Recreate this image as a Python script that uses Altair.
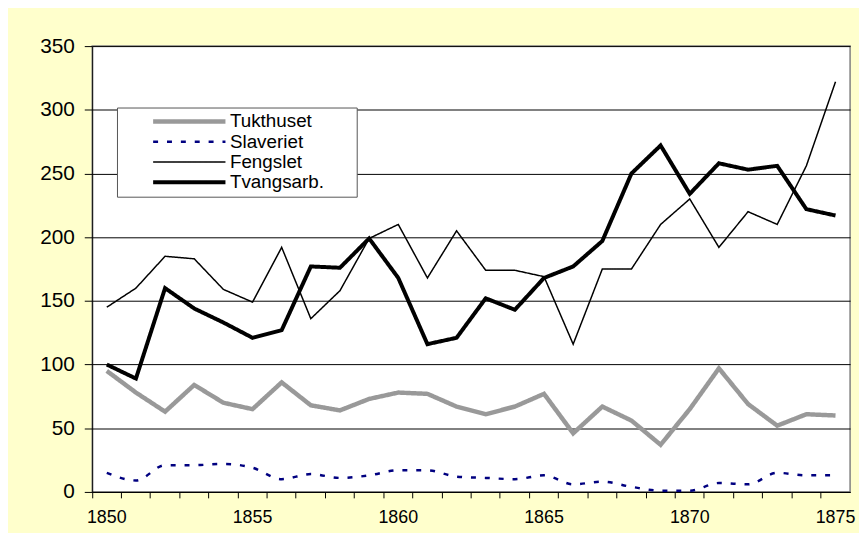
import altair as alt
import pandas as pd

years = list(range(1850, 1876))
series_names = ["Tukthuset", "Slaveriet", "Fengslet", "Tvangsarb."]

tukthuset = [95, 78, 63, 84, 70, 65, 86, 68, 64, 73, 78, 77, 67,
             61, 67, 77, 46, 67, 56, 37, 65, 97, 69, 52, 61, 60]
slaveriet = [15, 9, 21, 21, 22, 19, 10, 14, 11, 13, 17, 17, 12,
             11, 10, 13, 6, 8, 4, 1, 1, 7, 6, 15, 13, 13]
fengslet = [145, 160, 185, 183, 159, 149, 192, 136, 158, 199, 210, 168, 205,
            174, 174, 169, 116, 175, 175, 210, 230, 192, 220, 210, 256, 322]
tvangsarb = [100, 89, 160, 144, 133, 121, 127, 177, 176, 199, 168, 116, 121,
             152, 143, 168, 177, 197, 250, 272, 234, 258, 253, 256, 222, 217]

rows = []
for name, vals in zip(series_names, [tukthuset, slaveriet, fengslet, tvangsarb]):
    for y, v in zip(years, vals):
        rows.append({"year": y, "value": v, "series": name})
df = pd.DataFrame(rows)

colors = ["#999999", "#000080", "#000000", "#000000"]
widths = [4.5, 2.5, 1.5, 4]
dashes = [[1, 0], [5, 9], [1, 0], [1, 0]]

FONT = "Liberation Sans"
pad = "\u2800" * 2

legend = alt.Legend(
    title=None,
    orient="none",
    legendX=25,
    legendY=62,
    symbolType="stroke",
    symbolSize=5329,
    symbolOffset=30,
    labelOffset=2,
    clipHeight=20,
    rowPadding=0.5,
    padding=4,
    fillColor="#ffffff",
    strokeColor="#555555",
    labelFont=FONT,
    labelFontSize=19,
    labelColor="#000000",
    labelLimit=400,
    labelExpr="datum.label + '" + pad + "'",
)

base = alt.Chart(df).encode(
    x=alt.X(
        "year:O",
        scale=alt.Scale(type="band", paddingInner=0, paddingOuter=0),
        axis=alt.Axis(
            title=None,
            bandPosition=0,
            labelExpr="datum.value % 5 == 0 ? datum.label : ''",
            labelAngle=0,
            labelFont=FONT,
            labelFontSize=18,
            labelColor="#000000",
            labelPadding=11,
            tickSize=6,
            tickColor="#000000",
            domainColor="#000000",
            grid=False,
            labelOverlap=False,
        ),
    ),
    y=alt.Y(
        "value:Q",
        scale=alt.Scale(domain=[0, 350], nice=False, zero=True),
        axis=alt.Axis(
            title=None,
            values=[0, 50, 100, 150, 200, 250, 300, 350],
            labelFont=FONT,
            labelFontSize=21,
            labelColor="#000000",
            labelPadding=10,
            tickSize=8,
            tickColor="#000000",
            domainColor="#000000",
            grid=True,
            gridColor="#000000",
            gridWidth=1,
        ),
    ),
    color=alt.Color("series:N", scale=alt.Scale(domain=series_names, range=colors), legend=legend),
    strokeWidth=alt.StrokeWidth(
        "series:N",
        scale=alt.Scale(type="ordinal", domain=series_names, range=widths),
        legend=legend,
    ),
    strokeDash=alt.StrokeDash(
        "series:N",
        scale=alt.Scale(type="ordinal", domain=series_names, range=dashes),
        legend=legend,
    ),
)

lines_plain = base.transform_filter(alt.datum.series != "Slaveriet").mark_line(strokeJoin="miter")
line_smooth = base.transform_filter(alt.datum.series == "Slaveriet").mark_line(interpolate="monotone")

chart = alt.layer(line_smooth, lines_plain).properties(
    width=765,
    height=450,
    background="#FFFFCC",
    padding={"left": 85, "top": 36, "right": 9, "bottom": 39},
    autosize=alt.AutoSizeParams(type="none"),
).configure_view(
    fill="#ffffff",
    stroke="#808080",
    strokeWidth=1.5,
)

chart.save("out.html", embed_options={"renderer": "svg", "actions": False})
